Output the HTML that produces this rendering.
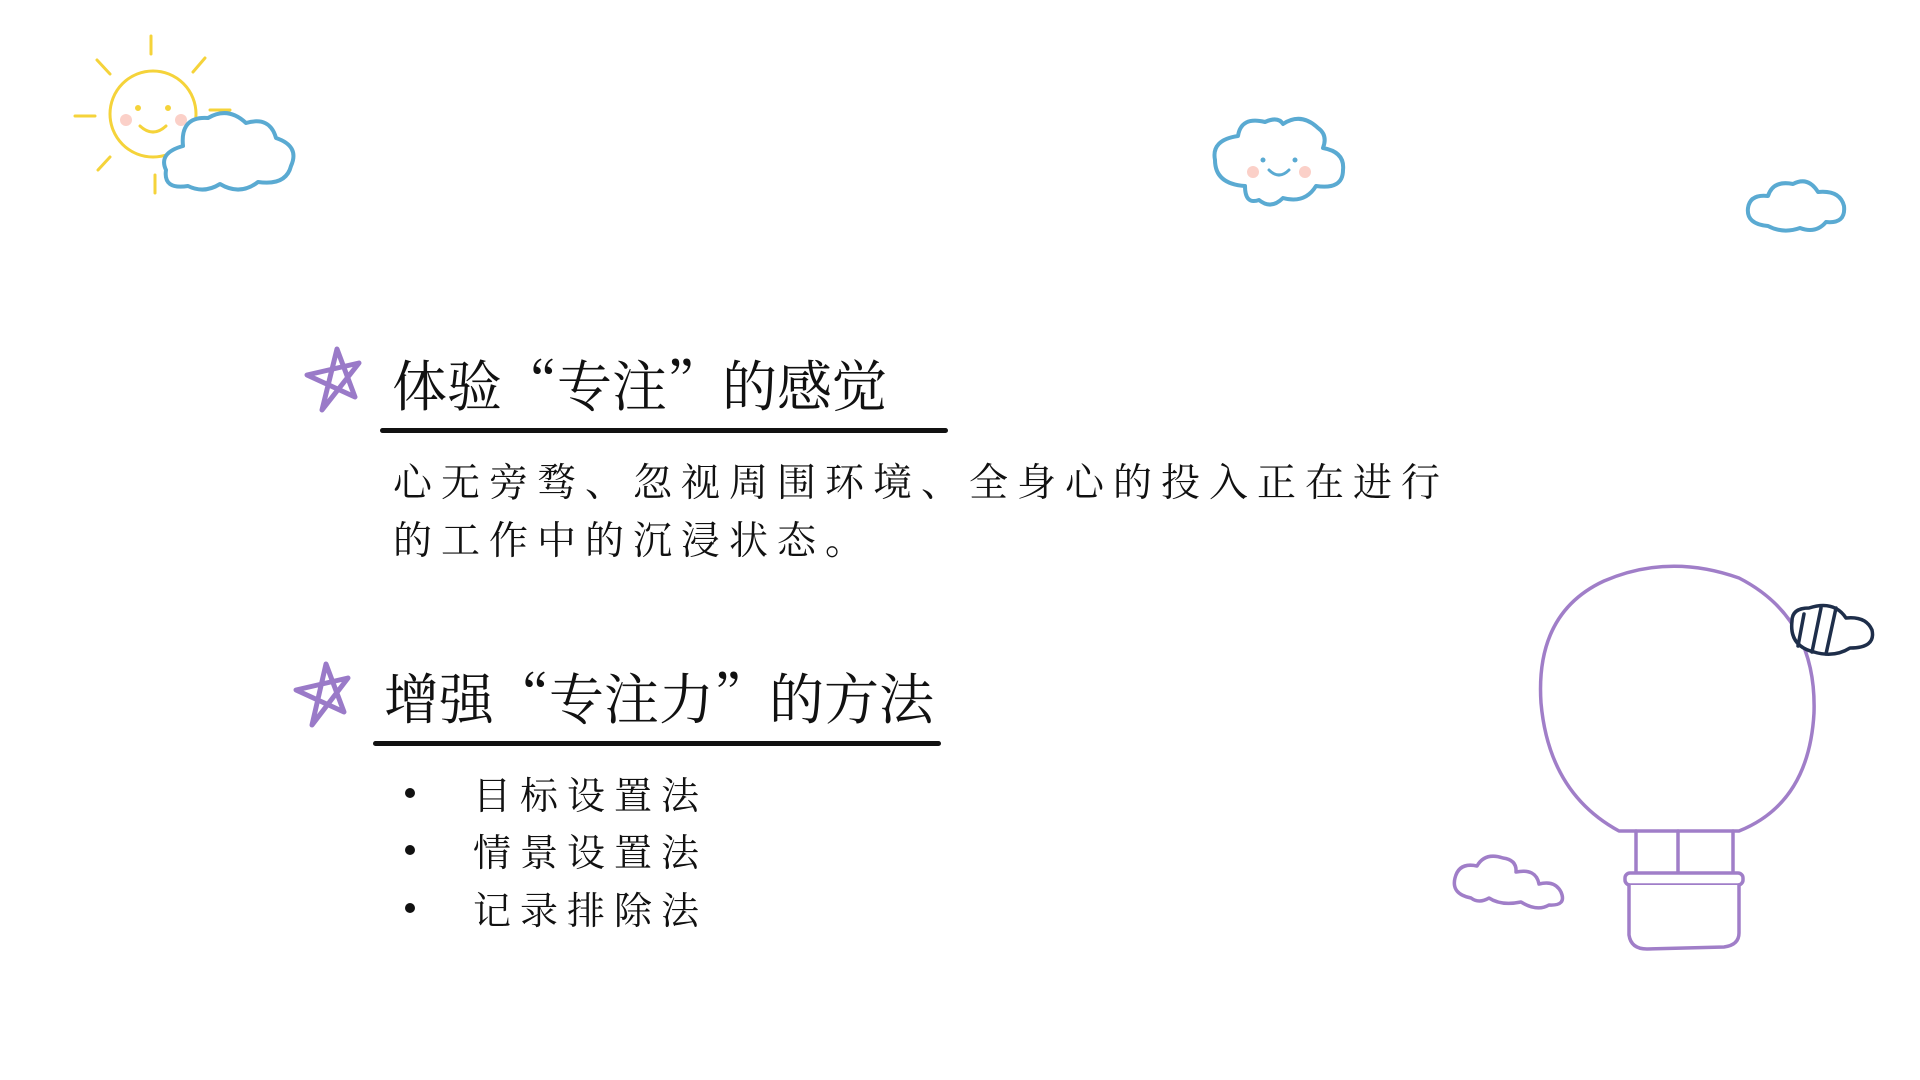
<!DOCTYPE html>
<html><head><meta charset="utf-8"><style>
html,body{margin:0;padding:0;background:#fff;}
body{width:1920px;height:1080px;position:relative;overflow:hidden;font-family:"Noto Serif CJK SC","Liberation Serif",serif;color:#111;}
.t{position:absolute;white-space:nowrap;}
.h{font-size:55px;line-height:1;}
.b{font-size:39px;letter-spacing:9px;line-height:58px;}
.li{font-size:38px;letter-spacing:9px;}
.dot{position:absolute;width:10px;height:10px;border-radius:50%;background:#111;}
.ul{position:absolute;height:5px;background:#111;border-radius:3px;}
svg{position:absolute;left:0;top:0;}
</style></head><body>
<svg width="1920" height="1080" fill="none" stroke-linecap="round" stroke-linejoin="round">
<g stroke="#f5d33a" stroke-width="3">
<circle cx="153" cy="114" r="43"/>
<line x1="151" y1="36" x2="151" y2="54"/><line x1="155" y1="175" x2="155" y2="193"/>
<line x1="75" y1="116" x2="95" y2="116"/><line x1="210" y1="110" x2="230" y2="110"/>
<line x1="97" y1="60" x2="110" y2="74"/><line x1="205" y1="58" x2="193" y2="72"/>
<line x1="98" y1="170" x2="110" y2="157"/>
<path d="M140 126 Q153 138 166 126"/>
<circle cx="138" cy="108" r="1.5"/><circle cx="168" cy="108" r="1.5"/>
</g>
<circle cx="126" cy="120" r="6" fill="#fbd0c8"/><circle cx="181" cy="120" r="6" fill="#fbd0c8"/>
<g transform="translate(8,-2)">
<path d="M180 188 Q155 192 158 172 Q150 155 175 148 Q172 118 200 120 Q220 108 238 125 Q262 118 268 140 Q292 148 283 168 Q278 188 250 184 Q232 198 212 186 Q196 196 180 188Z" fill="#fff" stroke="#5aaad2" stroke-width="4"/>
</g>
<g transform="translate(-17,0)">
<path d="M1262 186 Q1232 184 1232 160 Q1228 140 1255 136 Q1258 116 1282 122 Q1295 116 1300 124 Q1318 112 1335 128 Q1345 135 1340 148 Q1362 152 1360 170 Q1360 190 1333 186 Q1322 204 1300 198 Q1288 210 1276 200 Q1262 205 1262 186Z" stroke="#5aaad2" stroke-width="4"/>
<circle cx="1270" cy="172" r="6" fill="#fbd0c8"/><circle cx="1322" cy="172" r="6" fill="#fbd0c8"/>
<circle cx="1280" cy="160" r="2.5" fill="#5aaad2"/><circle cx="1312" cy="160" r="2.5" fill="#5aaad2"/>
<path d="M1286 170 Q1296 180 1306 170" stroke="#5aaad2" stroke-width="3"/>
</g>
<g transform="translate(-22,-2)">
<path d="M1790 228 Q1768 226 1770 210 Q1772 196 1790 198 Q1795 182 1815 186 Q1830 178 1840 194 Q1862 192 1866 208 Q1868 226 1848 224 Q1838 236 1822 230 Q1805 236 1790 228Z" stroke="#5aaad2" stroke-width="4"/>
</g>
<path d="M337 349 L322 410 L359 363 L307 375 L355 397 Z" stroke="#9a7ac8" stroke-width="5"/>
<path d="M326 664 L312 725 L348 678 L296 690 L344 712 Z" stroke="#9a7ac8" stroke-width="5"/>
<g transform="translate(-21,-7)">
<g stroke="#a07ec8" stroke-width="3.5">
<path d="M1640 838 Q1570 800 1562 710 Q1556 620 1625 588 Q1690 560 1760 585 Q1838 625 1835 720 Q1830 810 1760 838 Z" fill="#fff"/>
<line x1="1657" y1="838" x2="1657" y2="880"/><line x1="1699" y1="838" x2="1699" y2="880"/><line x1="1754" y1="838" x2="1754" y2="880"/>
<rect x="1646" y="880" width="118" height="12" rx="5" fill="#fff"/>
<path d="M1650 892 L1650 942 Q1652 956 1668 956 L1745 954 Q1760 952 1760 940 L1760 892" fill="#fff"/>
</g>
</g>
<g transform="translate(-19,-8)" stroke="#a07ec8" stroke-width="3.5">
<path d="M1490 906 Q1470 902 1474 886 Q1478 870 1496 874 Q1504 860 1522 866 Q1536 868 1535 880 Q1555 876 1558 892 Q1574 888 1580 900 Q1586 914 1568 913 Q1556 920 1540 910 Q1520 914 1508 906 Q1498 912 1490 906Z" fill="#fff"/>
</g>
<g transform="translate(-26,-4)" stroke="#1e2e4a" stroke-width="3.5">
<path d="M1818 625 Q1818 612 1835 612 Q1860 604 1872 622 Q1892 620 1898 634 Q1902 652 1876 652 Q1860 662 1840 656 Q1815 650 1818 625Z" fill="#fff"/>
<line x1="1830" y1="618" x2="1824" y2="650"/><line x1="1847" y1="612" x2="1838" y2="656"/><line x1="1862" y1="612" x2="1852" y2="658"/>
</g>
</svg>

<div class="t h" style="left:392px;top:355px;">体验“专注”的感觉</div>
<div class="ul" style="left:380px;top:428px;width:568px;"></div>
<div class="t b" style="left:393px;top:451px;">心无旁骛、忽视周围环境、全身心的投入正在进行<br>的工作中的沉浸状态。</div>

<div class="t h" style="left:384px;top:668px;">增强“专注力”的方法</div>
<div class="ul" style="left:373px;top:741px;width:568px;"></div>
<div class="dot" style="left:405px;top:788px;"></div><div class="t li" style="left:473px;top:765px;">目标设置法</div>
<div class="dot" style="left:405px;top:845px;"></div><div class="t li" style="left:473px;top:822px;">情景设置法</div>
<div class="dot" style="left:405px;top:903px;"></div><div class="t li" style="left:473px;top:880px;">记录排除法</div>
</body></html>
